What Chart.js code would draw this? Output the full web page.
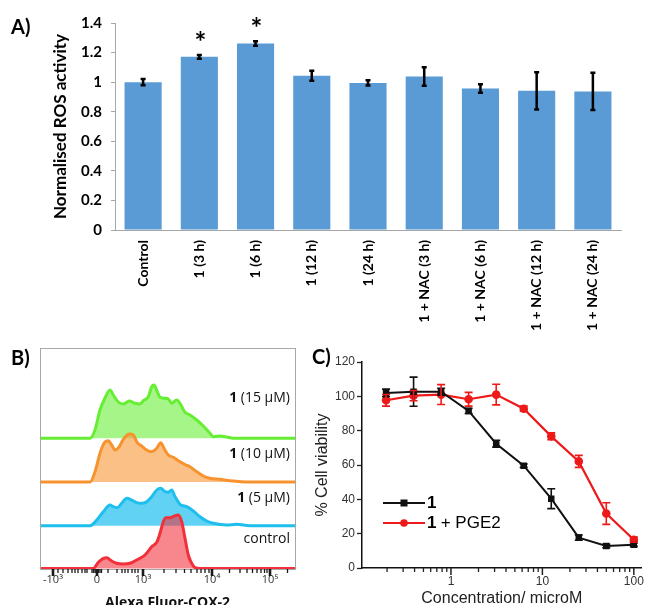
<!DOCTYPE html>
<html><head><meta charset="utf-8">
<script src="https://cdn.jsdelivr.net/npm/chart.js@4.4.0/dist/chart.umd.min.js"></script>
<style>
html,body{margin:0;padding:0;background:#fff;width:650px;height:605px;overflow:hidden;position:relative;}
canvas{position:absolute;}
.lbl{position:absolute;white-space:nowrap;color:#000;}
.lane{position:absolute;white-space:nowrap;font:14px "Open Sans";color:#111;text-align:right;right:360px;}
</style></head><body>
<canvas id="cA" style="left:0;top:0" width="650" height="340"></canvas>
<canvas id="cB" style="left:0;top:330px" width="320" height="290"></canvas>
<canvas id="cC" style="left:300px;top:330px" width="350" height="290"></canvas>
<div class="lbl" style="left:11px;top:14px;font:bold 20px Lato">A)</div>
<div class="lbl" style="left:11px;top:345px;font:bold 20px Lato">B)</div>
<div class="lbl" style="left:312px;top:344px;font:bold 20px Lato">C)</div>
<div class="lane" style="top:387px"><b>1</b> (15 μM)</div>
<div class="lane" style="top:443px"><b>1</b> (10 μM)</div>
<div class="lane" style="top:487px"><b>1</b> (5 μM)</div>
<div class="lane" style="top:528px">control</div>
<script>
// ---------- Panel A data ----------
const rosCategories = ['Control','1 (3 h)','1 (6 h)','1 (12 h)','1 (24 h)','1 + NAC (3 h)','1 + NAC (6 h)','1 + NAC (12 h)','1 + NAC (24 h)'];
const rosValues = [1.00, 1.171, 1.261, 1.043, 0.995, 1.038, 0.957, 0.941, 0.937];
const rosErrors = [0.021, 0.013, 0.015, 0.034, 0.018, 0.063, 0.028, 0.126, 0.126];
const rosSignificance = ['', '*', '*', '', '', '', '', '', ''];
const rosTicks = [0, 0.2, 0.4, 0.6, 0.8, 1, 1.2, 1.4];

// ---------- Panel B data (flow histograms: channel position, height) ----------
const flowTickValues = [13, 57, 103, 172, 230];
const flowTickLabels = ['-10³', '0', '10³', '10⁴', '10⁵'];
const flowMinorTicks = [18, 23, 28, 32, 35, 38, 42, 45, 47, 52, 53.5, 55, 56, 58.5, 60, 61.5, 68, 77, 82, 85, 88, 92, 95, 98, 124, 136, 144.5, 151, 157, 161, 165, 169, 189.5, 200, 207, 212.5, 217, 221, 224.5, 227, 247.5];
const laneBaselines = [0.5, 43.3, 87, 130.7]; // control, 5 uM, 10 uM, 15 uM
const ctrlX = [0, 53.3, 58.3, 63.3, 66.7, 71.7, 76.7, 83.3, 90, 96.7, 105, 111.7, 116.7, 120, 123.3, 126, 130, 135, 138.3, 141.7, 145, 148.3, 151.7, 155, 160, 255];
const ctrlH = [0, 0, 6.2, 10.2, 10.8, 7.5, 5.2, 4.5, 5.2, 8.5, 13.5, 21.8, 26.2, 35.2, 46.8, 50.8, 50.8, 52.8, 53.5, 46.8, 30.2, 13.5, 5.2, 0.8, 0, 0];
const c5X = [0, 50, 56.7, 63.3, 70, 73.3, 77.3, 81.7, 86.7, 91.7, 96.7, 101.7, 106.7, 111.7, 116.7, 120.7, 125, 128.3, 131.7, 135, 140, 146.7, 153.3, 160, 166.7, 173.3, 186.7, 196.7, 210, 255];
const c5H = [0, 0, 5.7, 14, 20.7, 19, 18, 22.4, 27.4, 25.7, 23, 22.4, 24, 29, 35.7, 37.4, 34, 33.4, 35.7, 29, 21.4, 19, 14.7, 9, 4.7, 2.4, 0.7, 1.4, 0, 0];
const c10X = [0, 50, 55, 60, 64, 68.3, 71.7, 75, 79.3, 83.3, 89.3, 93.3, 97.3, 101.7, 106.7, 111.7, 116.7, 120.7, 124, 128.3, 133.3, 140, 146, 150, 156.7, 163.3, 170, 180, 190, 210, 255];
const c10H = [0, 0, 10.3, 28.7, 38.7, 41.3, 37, 32, 35.3, 42.7, 48, 47, 39.3, 36, 32, 30.3, 33.7, 39.3, 33.7, 27, 24.7, 20.3, 17, 15.3, 10.3, 6, 3.7, 2.7, 1.3, 0, 0];
const c15X = [0, 50, 55, 60, 65, 70, 73.3, 78.3, 83.3, 89.3, 95, 100, 103.3, 108.3, 111.7, 114, 117.3, 120, 125, 128.3, 131.7, 136.7, 140, 145, 150, 156.7, 163.3, 170, 173.3, 180, 186.7, 193.3, 255];
const c15H = [0, 0, 8.3, 28.3, 40.3, 48.3, 43.3, 36.3, 34.3, 37.3, 35, 34.3, 37.6, 41.6, 51.6, 53.3, 46.6, 41, 40, 39.3, 35, 38.3, 35, 26, 23.3, 18.3, 12.3, 5, 1.6, 2.3, 1.3, 0, 0];

// ---------- Panel C data ----------
const concentrations = [0.195, 0.39, 0.78, 1.56, 3.125, 6.25, 12.5, 25, 50, 100];
const viability1 = [102, 102.7, 102.7, 91.5, 72.4, 59.6, 40.4, 17.7, 12.8, 13.6];
const viability1Err = [2.2, 8.5, 2, 1.5, 2, 1, 5.8, 1.5, 1, 1];
const viabilityPGE2 = [97.7, 100.4, 101, 98.3, 101, 92.8, 76.7, 62.1, 31.7, 16.5];
const viabilityPGE2Err = [3.4, 3, 5.8, 4, 6, 1.5, 2, 3.5, 6.3, 1.5];
const concTicks = [1, 10, 100];
const concMinorTicks = [0.2, 0.3, 0.4, 0.5, 0.6, 0.7, 0.8, 0.9, 2, 3, 4, 5, 6, 7, 8, 9, 20, 30, 40, 50, 60, 70, 80, 90];
const viabilityTicks = [0, 20, 40, 60, 80, 100, 120];

Chart.defaults.animation = false;

// ================= Panel A =================
const errA = {
  id: 'errA',
  afterDatasetsDraw(chart) {
    const {ctx} = chart; const y = chart.scales.y;
    const meta = chart.getDatasetMeta(0);
    ctx.save();
    ctx.strokeStyle = '#000'; ctx.lineWidth = 2.5;
    meta.data.forEach((bar, i) => {
      const px = bar.x;
      const t = y.getPixelForValue(rosValues[i] + rosErrors[i]);
      const b = y.getPixelForValue(rosValues[i] - rosErrors[i]);
      ctx.beginPath();
      ctx.moveTo(px, t); ctx.lineTo(px, b);
      ctx.moveTo(px - 2.5, t); ctx.lineTo(px + 2.5, t);
      ctx.moveTo(px - 2.5, b); ctx.lineTo(px + 2.5, b);
      ctx.stroke();
    });
    ctx.fillStyle = '#000'; ctx.font = 'bold 28px Lato'; ctx.textAlign = 'center'; ctx.textBaseline = 'alphabetic';
    meta.data.forEach((bar, i) => {
      if (rosSignificance[i]) {
        ctx.fillText(rosSignificance[i], bar.x + 1, y.getPixelForValue(rosValues[i] + rosErrors[i]) - 3);
      }
    });
    ctx.restore();
  }
};
new Chart(document.getElementById('cA'), {
  type: 'bar',
  data: { labels: rosCategories, datasets: [{ data: rosValues, backgroundColor: '#5B9BD5', barPercentage: 0.66, categoryPercentage: 1 }] },
  options: {
    responsive: false, devicePixelRatio: 1,
    layout: { padding: { left: 0, right: 29, top: 23, bottom: 0 } },
    plugins: { legend: { display: false }, tooltip: { enabled: false } },
    scales: {
      x: {
        grid: { display: false, drawTicks: false },
        border: { display: true, color: '#A6A6A6', width: 1 },
        ticks: { color: '#000', font: { family: 'Lato', weight: 'bold', size: 14 }, maxRotation: 90, minRotation: 90, padding: 10, autoSkip: false },
        afterFit(s) { s.height = 110; }
      },
      y: {
        min: 0, max: 1.4,
        afterBuildTicks(s) { s.ticks = rosTicks.map(v => ({ value: v })); },
        grid: { display: true, drawOnChartArea: false, drawTicks: true, tickLength: 4, color: '#A6A6A6' },
        border: { display: true, color: '#A6A6A6', width: 1 },
        ticks: { color: '#000', font: { family: 'Lato', weight: 'bold', size: 15 }, padding: 9, callback: v => String(+Number(v).toFixed(1)) },
        title: { display: true, text: 'Normalised ROS activity', color: '#000', font: { family: 'Lato', weight: 'bold', size: 17 }, padding: { top: 50, bottom: 0 } },
        afterFit(s) { s.width = 115; }
      }
    }
  },
  plugins: [errA]
});

// ================= Panel B =================
const flowDecor = {
  id: 'flowDecor',
  afterDraw(chart) {
    const {ctx, chartArea: a} = chart; const x = chart.scales.x;
    ctx.save();
    ctx.strokeStyle = '#A8A8A8'; ctx.lineWidth = 1;
    ctx.strokeRect(a.left + 0.5, a.top + 0.5, a.right - a.left, a.bottom - a.top);
    ctx.strokeStyle = '#1a1a1a';
    ctx.lineWidth = 1.3;
    flowMinorTicks.forEach(v => {
      const px = x.getPixelForValue(v);
      ctx.beginPath(); ctx.moveTo(px, a.bottom); ctx.lineTo(px, a.bottom + 4); ctx.stroke();
    });
    ctx.lineWidth = 2.6;
    flowTickValues.forEach(v => {
      const px = x.getPixelForValue(v);
      ctx.beginPath(); ctx.moveTo(px, a.bottom); ctx.lineTo(px, a.bottom + 7); ctx.stroke();
    });
    ctx.restore();
  }
};
function lanePoints(xs, hs, base) { return xs.map((v, i) => ({ x: v, y: base + hs[i] })); }
function laneDataset(label, xs, hs, base, line, fillCol) {
  return { label, data: lanePoints(xs, hs, base), borderColor: line, backgroundColor: fillCol, fill: { value: base }, borderWidth: 3, pointRadius: 0, cubicInterpolationMode: 'monotone' };
}
new Chart(document.getElementById('cB'), {
  type: 'line',
  data: {
    datasets: [
      laneDataset('control', ctrlX, ctrlH, laneBaselines[0], '#F2303A', 'rgba(242,48,58,0.58)'),
      laneDataset('1 (5 μM)', c5X, c5H, laneBaselines[1], '#1EBFEF', 'rgba(30,191,239,0.70)'),
      laneDataset('1 (10 μM)', c10X, c10H, laneBaselines[2], '#F7932F', 'rgba(247,147,47,0.58)'),
      laneDataset('1 (15 μM)', c15X, c15H, laneBaselines[3], '#66EE33', 'rgba(102,238,51,0.58)')
    ]
  },
  options: {
    responsive: false, devicePixelRatio: 1,
    layout: { padding: { left: 40, right: 25, top: 18, bottom: 0 } },
    plugins: { legend: { display: false }, tooltip: { enabled: false } },
    scales: {
      x: {
        type: 'linear', min: 0, max: 255,
        afterBuildTicks(s) { s.ticks = flowTickValues.map(v => ({ value: v })); },
        grid: { display: false, drawTicks: false }, border: { display: false },
        ticks: { color: '#333', font: { family: 'Open Sans', size: 11 }, padding: 4, autoSkip: false, maxRotation: 0,
          callback: (v) => { const i = flowTickValues.indexOf(v); return i >= 0 ? flowTickLabels[i] : ''; } },
        title: { display: true, text: 'Alexa Fluor-COX-2', color: '#111', font: { family: 'Open Sans', weight: 'bold', size: 14 }, padding: { top: 0, bottom: 9 } },
        afterFit(s) { s.height = 51; }
      },
      y: { display: false, min: 0, max: 221 }
    }
  },
  plugins: [flowDecor]
});

// ================= Panel C =================
const errC = {
  id: 'errC',
  afterDatasetsDraw(chart) {
    const {ctx} = chart; const y = chart.scales.y;
    const errs = [viability1Err, viabilityPGE2Err];
    const vals = [viability1, viabilityPGE2];
    ctx.save();
    chart.data.datasets.forEach((ds, di) => {
      const meta = chart.getDatasetMeta(di);
      ctx.strokeStyle = ds.borderColor; ctx.lineWidth = 1.6;
      meta.data.forEach((pt, i) => {
        const t = y.getPixelForValue(vals[di][i] + errs[di][i]);
        const b = y.getPixelForValue(vals[di][i] - errs[di][i]);
        ctx.beginPath();
        ctx.moveTo(pt.x, t); ctx.lineTo(pt.x, b);
        ctx.moveTo(pt.x - 4, t); ctx.lineTo(pt.x + 4, t);
        ctx.moveTo(pt.x - 4, b); ctx.lineTo(pt.x + 4, b);
        ctx.stroke();
      });
    });
    ctx.restore();
  },
  afterDraw(chart) {
    const {ctx, chartArea: a} = chart; const x = chart.scales.x;
    ctx.save();
    ctx.strokeStyle = '#222';
    ctx.lineWidth = 1.3;
    concMinorTicks.forEach(v => { const px = x.getPixelForValue(v); ctx.beginPath(); ctx.moveTo(px, a.bottom); ctx.lineTo(px, a.bottom + 4); ctx.stroke(); });
    ctx.lineWidth = 1.5;
    concTicks.forEach(v => { const px = x.getPixelForValue(v); ctx.beginPath(); ctx.moveTo(px, a.bottom); ctx.lineTo(px, a.bottom + 7); ctx.stroke(); });
    // legend
    const lx = a.left + 21, rows = [a.top + 141, a.top + 161];
    chart.data.datasets.forEach((ds, di) => {
      const yy = rows[di];
      ctx.strokeStyle = ds.borderColor; ctx.lineWidth = 2;
      ctx.beginPath(); ctx.moveTo(lx, yy); ctx.lineTo(lx + 42, yy); ctx.stroke();
      ctx.fillStyle = ds.borderColor;
      if (ds.pointStyle === 'rect') { ctx.fillRect(lx + 21 - 3.5, yy - 3.5, 7, 7); }
      else { ctx.beginPath(); ctx.arc(lx + 21, yy, 3.8, 0, Math.PI * 2); ctx.fill(); }
      ctx.fillStyle = '#000'; ctx.textBaseline = 'middle'; ctx.textAlign = 'left';
      ctx.font = 'bold 17px "Liberation Sans"';
      ctx.fillText('1', lx + 44, yy);
      if (di === 1) {
        ctx.font = '17px "Liberation Sans"';
        ctx.fillText(' + PGE2', lx + 53, yy);
      }
    });
    ctx.restore();
  }
};
new Chart(document.getElementById('cC'), {
  type: 'line',
  data: {
    datasets: [
      { label: '1', data: concentrations.map((c, i) => ({ x: c, y: viability1[i] })), borderColor: '#111111', backgroundColor: '#111111', borderWidth: 2, pointStyle: 'rect', pointRadius: 3.2, tension: 0 },
      { label: '1 + PGE2', data: concentrations.map((c, i) => ({ x: c, y: viabilityPGE2[i] })), borderColor: '#EE1A1A', backgroundColor: '#EE1A1A', borderWidth: 2.2, pointStyle: 'circle', pointRadius: 3.2, tension: 0 }
    ]
  },
  options: {
    responsive: false, devicePixelRatio: 1,
    layout: { padding: { left: 0, right: 2, top: 32, bottom: 0 } },
    plugins: { legend: { display: false }, tooltip: { enabled: false } },
    scales: {
      x: {
        type: 'logarithmic', min: 0.1064, max: 121.6,
        afterBuildTicks(s) { s.ticks = concTicks.map(v => ({ value: v })); },
        grid: { display: false, drawTicks: false },
        border: { display: true, color: '#111', width: 1.5 },
        ticks: { color: '#333', font: { family: 'Liberation Sans', size: 12 }, padding: 6, autoSkip: false, maxRotation: 0, callback: v => String(v) },
        title: { display: true, text: 'Concentration/ microM', color: '#222', font: { family: 'Liberation Sans', size: 16 }, padding: { top: 0, bottom: 12 } },
        afterFit(s) { s.height = 52; }
      },
      y: {
        min: 0, max: 120,
        afterBuildTicks(s) { s.ticks = viabilityTicks.map(v => ({ value: v })); },
        grid: { display: true, drawOnChartArea: false, drawTicks: true, tickLength: 5, color: '#222', tickWidth: 1.3 },
        border: { display: true, color: '#111', width: 1.5 },
        ticks: { color: '#333', font: { family: 'Liberation Sans', size: 12 }, padding: 2 },
        title: { display: true, text: '% Cell viability', color: '#222', font: { family: 'Liberation Sans', size: 16 }, padding: { top: 13, bottom: 0 } },
        afterFit(s) { s.width = 62; }
      }
    }
  },
  plugins: [errC]
});
</script>
</body></html>
